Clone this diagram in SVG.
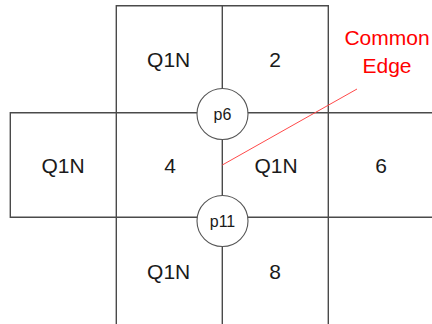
<svg xmlns="http://www.w3.org/2000/svg" width="432" height="324" viewBox="0 0 432 324">
  <style>
    .grid { stroke: #4a4a4a; stroke-width: 1.4; fill: none; }
    .node { fill: #ffffff; stroke: #555555; stroke-width: 1.1; }
    .lbl { font-family: "Liberation Sans", Arial, sans-serif; font-size: 21px; fill: #1a1a1a; text-anchor: middle; }
    .pt { font-family: "Liberation Sans", Arial, sans-serif; font-size: 16px; fill: #1a1a1a; text-anchor: middle; }
    .note { font-family: "Liberation Sans", Arial, sans-serif; font-size: 21px; fill: #ff0000; text-anchor: middle; }
  </style>
  <rect width="432" height="324" fill="#ffffff"/>

  <!-- grid cells -->
  <g id="cells">
    <!-- top row -->
    <path class="grid" d="M116.3,113 V5.7 H328.3 V113"/>
    <path class="grid" d="M222.3,5.7 V113"/>
    <!-- middle row -->
    <path class="grid" d="M432,112.7 H10.3 V217.3 H432"/>
    <path class="grid" d="M116.3,112.7 V217.3 M328.3,112.7 V217.3"/>
    <!-- bottom row -->
    <path class="grid" d="M116.3,217.3 V324 M222.3,217.3 V324 M328.3,217.3 V324"/>
  </g>

  <!-- edge shared by the two middle cells -->
  <g id="connectors">
    <line class="grid" x1="222.3" y1="113" x2="222.3" y2="218"/>
    <line x1="222.3" y1="165" x2="357" y2="89" stroke="#ff4a4a" stroke-width="1"/>
  </g>

  <g id="cell-top-left"><text class="lbl" x="168.7" y="66.7">Q1N</text></g>
  <g id="cell-2"><text class="lbl" x="275" y="66.7">2</text></g>
  <g id="cell-left"><text class="lbl" x="63" y="172.5">Q1N</text></g>
  <g id="cell-4"><text class="lbl" x="170" y="172.5">4</text></g>
  <g id="cell-center"><text class="lbl" x="276" y="172.5">Q1N</text></g>
  <g id="cell-6"><text class="lbl" x="381" y="172.5">6</text></g>
  <g id="cell-bottom-left"><text class="lbl" x="168.7" y="279">Q1N</text></g>
  <g id="cell-8"><text class="lbl" x="275" y="279">8</text></g>

  <g id="p6">
    <circle class="node" cx="222.5" cy="114" r="25.5"/>
    <text class="pt" x="222.5" y="120">p6</text>
  </g>
  <g id="p11">
    <circle class="node" cx="222.5" cy="221" r="25.5"/>
    <text class="pt" x="222.5" y="226.7">p11</text>
  </g>

  <g id="common-edge-label">
    <text class="note" x="387" y="45">Common</text>
    <text class="note" x="387" y="73">Edge</text>
  </g>
</svg>
